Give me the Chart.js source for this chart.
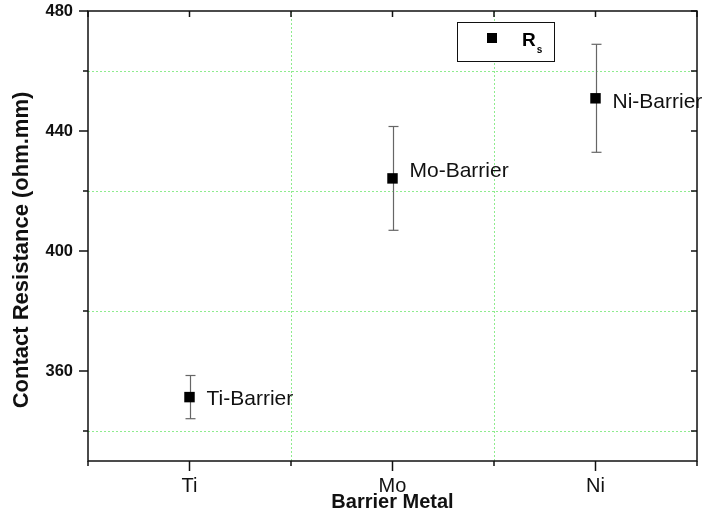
<!DOCTYPE html>
<html>
<head>
<meta charset="utf-8">
<script src="https://cdn.jsdelivr.net/npm/chart.js@4.4.1/dist/chart.umd.min.js"></script>
<style>
  html, body { margin: 0; padding: 0; background: #fff; }
  #wrap { width: 708px; height: 515px; }
  canvas { display: block; }
</style>
</head>
<body>
<div id="wrap"><canvas id="chart" width="708" height="515"></canvas></div>
<script>
// Contact resistance per barrier metal, with error bars
const categories = ['Ti', 'Mo', 'Ni'];
const pointLabels = ['Ti-Barrier', 'Mo-Barrier', 'Ni-Barrier'];
const resistance = [351.3, 424.2, 450.9];
const resistanceErr = [7.2, 17.3, 18.0];
const yMajorTicks = [360, 400, 440, 480];
const yMinorTicks = [340, 380, 420, 460];
const xMinorTicks = [-0.5, 0.5, 1.5, 2.5];
const seriesName = 'R';
const seriesSub = 's';
const yTitle = 'Contact Resistance (ohm.mm)';
const xTitle = 'Barrier Metal';

const FONT = "'Liberation Sans', Arial, Helvetica, sans-serif";
const INK = '#111';
const GRID = '#8eec8e';
const ERR = '#666';
// vertical nudge (px) of each point annotation relative to its marker
const LABEL_DY = [2, -7, 4];

function seg(ctx, x1, y1, x2, y2) {
  ctx.beginPath(); ctx.moveTo(x1, y1); ctx.lineTo(x2, y2); ctx.stroke();
}

const decorations = {
  id: 'decorations',
  beforeDatasetsDraw(chart) {
    const { ctx, chartArea: a, scales: { x, y } } = chart;
    ctx.save();
    // dotted grid on the minor positions
    ctx.strokeStyle = GRID; ctx.lineWidth = 1; ctx.setLineDash([2, 2]);
    yMinorTicks.forEach(v => {
      const py = Math.round(y.getPixelForValue(v)) + 0.5;
      seg(ctx, a.left, py, a.right, py);
    });
    xMinorTicks.slice(1, -1).forEach(v => {
      const px = Math.round(x.getPixelForValue(v)) + 0.5;
      seg(ctx, px, a.top, px, a.bottom);
    });
    ctx.setLineDash([]);
    // error bars
    ctx.strokeStyle = ERR; ctx.lineWidth = 1.2;
    resistance.forEach((v, i) => {
      const px = Math.round(x.getPixelForValue(i)) + 0.5;
      const top = y.getPixelForValue(v + resistanceErr[i]);
      const bot = y.getPixelForValue(v - resistanceErr[i]);
      seg(ctx, px, top, px, bot);
      seg(ctx, px - 5, top, px + 5, top);
      seg(ctx, px - 5, bot, px + 5, bot);
    });
    ctx.restore();
  },
  afterDatasetsDraw(chart) {
    const { ctx, chartArea: a, scales: { x, y } } = chart;
    ctx.save();
    // point annotations
    ctx.fillStyle = INK;
    ctx.font = `21px ${FONT}`;
    ctx.textAlign = 'left'; ctx.textBaseline = 'middle';
    resistance.forEach((v, i) => {
      ctx.fillText(pointLabels[i], x.getPixelForValue(i) + 17, y.getPixelForValue(v) + LABEL_DY[i]);
    });
    // y-axis title, rotated
    ctx.save();
    ctx.translate(22, 250);
    ctx.rotate(-Math.PI / 2);
    ctx.textAlign = 'center';
    ctx.font = `bold 22px ${FONT}`;
    ctx.fillText(yTitle, 0, 0);
    ctx.restore();
    // frame
    ctx.strokeStyle = INK; ctx.lineWidth = 1.5;
    ctx.strokeRect(a.left, a.top, a.right - a.left, a.bottom - a.top);
    // left ticks (outward) and right ticks (inward)
    const yTicks = yMajorTicks.map(v => [v, 9]).concat(yMinorTicks.map(v => [v, 5]));
    yTicks.forEach(([v, len]) => {
      const py = y.getPixelForValue(v);
      seg(ctx, a.left - len, py, a.left, py);
      seg(ctx, a.right - 6, py, a.right, py);
    });
    // bottom ticks (outward) and top ticks (inward)
    const xTicks = categories.map((c, i) => [i, 10]).concat(xMinorTicks.map(v => [v, 5]));
    xTicks.forEach(([v, len]) => {
      const px = x.getPixelForValue(v);
      seg(ctx, px, a.bottom, px, a.bottom + len);
      seg(ctx, px, a.top, px, a.top + 6);
    });
    // legend box
    const lx = 457, ly = 22, lw = 97, lh = 39;
    ctx.lineWidth = 1; ctx.strokeStyle = INK;
    ctx.fillStyle = '#fff';
    ctx.fillRect(lx, ly, lw, lh);
    ctx.strokeRect(lx + 0.5, ly + 0.5, lw, lh);
    ctx.fillStyle = '#000';
    ctx.fillRect(lx + 30, ly + 11, 10, 10);
    ctx.font = `bold 19px ${FONT}`;
    ctx.textBaseline = 'alphabetic';
    ctx.textAlign = 'left';
    ctx.fillText(seriesName, lx + 65, ly + 24);
    const rw = ctx.measureText(seriesName).width;
    ctx.font = `bold 10px ${FONT}`;
    ctx.fillText(seriesSub, lx + 65 + rw + 1, ly + 31);
    ctx.restore();
  }
};

const bg = {
  id: 'bg',
  beforeDraw(chart) {
    const { ctx } = chart;
    ctx.save(); ctx.fillStyle = '#fff';
    ctx.fillRect(0, 0, chart.width, chart.height); ctx.restore();
  }
};

new Chart(document.getElementById('chart'), {
  type: 'scatter',
  data: {
    datasets: [{
      label: seriesName + seriesSub,
      data: categories.map((c, i) => ({ x: i, y: resistance[i] })),
      pointStyle: 'rect',
      pointRadius: 7.4,
      pointHoverRadius: 7.4,
      backgroundColor: '#000',
      borderColor: '#000',
      borderWidth: 0,
      showLine: false
    }]
  },
  options: {
    responsive: false,
    animation: false,
    devicePixelRatio: 1,
    layout: { padding: { top: 11, right: 11, left: 0, bottom: 0 } },
    plugins: { legend: { display: false }, tooltip: { enabled: false } },
    scales: {
      x: {
        type: 'linear', min: -0.5, max: 2.5,
        afterBuildTicks: s => { s.ticks = categories.map((c, i) => ({ value: i })); },
        afterFit: s => { s.height = 54; s.paddingLeft = 0; s.paddingRight = 0; },
        grid: { drawOnChartArea: false, drawTicks: false },
        border: { display: false },
        ticks: {
          autoSkip: false, maxRotation: 0, padding: 13,
          color: INK, font: { family: FONT, size: 20 },
          callback: v => categories[v]
        },
        title: {
          display: true, text: xTitle, color: INK,
          font: { family: FONT, size: 20, weight: 'bold' },
          padding: { top: 0, bottom: 1 }
        }
      },
      y: {
        type: 'linear', min: 330, max: 480,
        afterBuildTicks: s => { s.ticks = yMajorTicks.map(v => ({ value: v })); },
        afterFit: s => { s.width = 88; s.paddingTop = 0; s.paddingBottom = 0; },
        grid: { drawOnChartArea: false, drawTicks: false },
        border: { display: false },
        ticks: {
          padding: 15, color: INK,
          font: { family: FONT, size: 16.5, weight: 'bold' }
        },
        title: { display: false }
      }
    }
  },
  plugins: [bg, decorations]
});
</script>
</body>
</html>
